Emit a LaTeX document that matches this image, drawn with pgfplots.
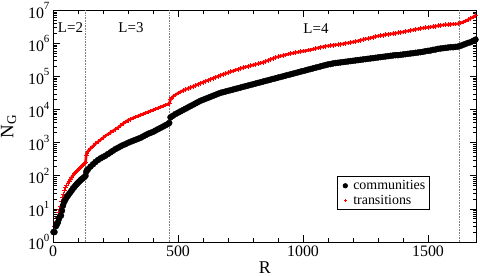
\documentclass[border=0pt]{standalone}
\usepackage{fontspec}
\setmainfont{Liberation Serif}
\usepackage{pgfplots}
\usepackage{pgfplotstable}
\pgfplotsset{compat=1.18}

% log10 of N_G
\pgfplotstableread[row sep=\\]{
R lg\\
2 0.30\\ 6 0.30\\ 12 0.48\\ 16 0.54\\ 20 0.60\\ 24 0.70\\ 28 0.78\\ 32 0.80\\ 36 0.95\\ 40 1.10\\
44 1.20\\ 48 1.26\\ 52 1.32\\ 56 1.37\\ 60 1.41\\ 65 1.46\\ 70 1.51\\ 75 1.56\\ 80 1.62\\ 85 1.66\\
90 1.71\\ 95 1.75\\ 100 1.79\\ 105 1.83\\ 110 1.87\\ 115 1.90\\ 120 1.93\\ 125 1.96\\ 130 2.00\\ 133 2.12\\
136 2.17\\ 140 2.20\\ 150 2.28\\ 160 2.35\\ 170 2.42\\ 180 2.48\\ 190 2.53\\ 200 2.57\\ 210 2.61\\ 220 2.66\\
230 2.71\\ 240 2.76\\ 250 2.81\\ 260 2.85\\ 270 2.89\\ 280 2.93\\ 290 2.96\\ 300 3.00\\ 310 3.03\\ 320 3.06\\
330 3.09\\ 340 3.12\\ 350 3.15\\ 360 3.19\\ 370 3.23\\ 380 3.27\\ 390 3.30\\ 400 3.33\\ 410 3.37\\ 420 3.41\\
430 3.45\\ 440 3.49\\ 450 3.53\\ 460 3.57\\ 465 3.60\\ 470 3.77\\ 480 3.82\\ 490 3.87\\ 500 3.91\\ 510 3.95\\
520 3.99\\ 530 4.03\\ 540 4.07\\ 550 4.11\\ 560 4.15\\ 570 4.19\\ 580 4.23\\ 590 4.27\\ 600 4.30\\ 610 4.33\\
620 4.36\\ 630 4.39\\ 640 4.42\\ 650 4.45\\ 660 4.48\\ 670 4.51\\ 680 4.53\\ 690 4.55\\ 700 4.57\\ 710 4.59\\
720 4.61\\ 730 4.63\\ 740 4.65\\ 750 4.67\\ 760 4.69\\ 770 4.71\\ 780 4.73\\ 790 4.75\\ 800 4.77\\ 810 4.79\\
820 4.81\\ 830 4.83\\ 840 4.85\\ 850 4.87\\ 860 4.89\\ 870 4.91\\ 880 4.93\\ 890 4.95\\ 900 4.97\\ 910 4.99\\
920 5.01\\ 930 5.03\\ 940 5.05\\ 950 5.07\\ 960 5.09\\ 970 5.11\\ 980 5.13\\ 990 5.15\\ 1000 5.17\\ 1010 5.19\\
1020 5.21\\ 1030 5.23\\ 1040 5.25\\ 1050 5.27\\ 1060 5.29\\ 1070 5.31\\ 1080 5.33\\ 1090 5.35\\ 1100 5.37\\ 1110 5.38\\
1120 5.40\\ 1130 5.41\\ 1140 5.42\\ 1150 5.43\\ 1160 5.44\\ 1170 5.45\\ 1180 5.46\\ 1190 5.47\\ 1200 5.48\\ 1210 5.49\\
1220 5.50\\ 1230 5.51\\ 1240 5.52\\ 1250 5.53\\ 1260 5.54\\ 1270 5.55\\ 1280 5.56\\ 1290 5.57\\ 1300 5.58\\ 1310 5.59\\
1320 5.60\\ 1330 5.61\\ 1340 5.62\\ 1350 5.63\\ 1360 5.64\\ 1370 5.65\\ 1380 5.65\\ 1390 5.66\\ 1400 5.67\\ 1410 5.68\\
1420 5.69\\ 1430 5.70\\ 1440 5.71\\ 1450 5.72\\ 1460 5.73\\ 1470 5.74\\ 1480 5.75\\ 1490 5.77\\ 1500 5.78\\ 1510 5.79\\
1520 5.81\\ 1530 5.82\\ 1540 5.84\\ 1550 5.85\\ 1560 5.86\\ 1570 5.87\\ 1580 5.88\\ 1590 5.89\\ 1600 5.89\\ 1610 5.90\\
1620 5.91\\ 1630 5.93\\ 1640 5.96\\ 1650 5.99\\ 1660 6.02\\ 1670 6.04\\ 1680 6.08\\ 1690 6.12\\
}\commtab

\pgfplotstableread[row sep=\\]{
R lg\\
3 0.30\\ 7 0.48\\ 11 0.48\\ 15 0.62\\ 19 0.75\\ 23 0.90\\ 27 1.00\\ 31 1.08\\ 35 1.22\\ 39 1.34\\
43 1.45\\ 47 1.56\\ 51 1.64\\ 55 1.71\\ 60 1.78\\ 65 1.84\\ 70 1.90\\ 75 1.96\\ 80 2.01\\ 85 2.06\\
90 2.10\\ 95 2.14\\ 100 2.18\\ 105 2.22\\ 110 2.26\\ 115 2.30\\ 120 2.34\\ 125 2.37\\ 130 2.40\\ 133 2.62\\
136 2.69\\ 140 2.75\\ 150 2.83\\ 160 2.90\\ 170 2.97\\ 180 3.03\\ 190 3.09\\ 200 3.15\\ 210 3.21\\ 220 3.26\\
230 3.31\\ 240 3.36\\ 250 3.41\\ 260 3.46\\ 270 3.52\\ 280 3.58\\ 290 3.63\\ 300 3.68\\ 310 3.71\\ 320 3.75\\
330 3.78\\ 340 3.81\\ 350 3.84\\ 360 3.87\\ 370 3.90\\ 380 3.93\\ 390 3.96\\ 400 3.99\\ 410 4.02\\ 420 4.05\\
430 4.08\\ 440 4.11\\ 450 4.14\\ 460 4.17\\ 465 4.19\\ 470 4.30\\ 475 4.36\\ 480 4.40\\ 490 4.45\\ 500 4.50\\
510 4.54\\ 520 4.58\\ 530 4.61\\ 540 4.64\\ 550 4.67\\ 560 4.70\\ 570 4.73\\ 580 4.77\\ 590 4.80\\ 600 4.83\\
610 4.86\\ 620 4.89\\ 630 4.92\\ 640 4.95\\ 650 4.98\\ 660 5.01\\ 670 5.04\\ 680 5.07\\ 690 5.09\\ 700 5.12\\
710 5.15\\ 720 5.17\\ 730 5.20\\ 740 5.22\\ 750 5.25\\ 760 5.27\\ 770 5.29\\ 780 5.31\\ 790 5.33\\ 800 5.35\\
810 5.37\\ 820 5.39\\ 830 5.41\\ 840 5.43\\ 850 5.46\\ 860 5.49\\ 870 5.52\\ 880 5.55\\ 890 5.58\\ 900 5.60\\
910 5.62\\ 920 5.64\\ 930 5.66\\ 940 5.68\\ 950 5.70\\ 960 5.71\\ 970 5.73\\ 980 5.74\\ 990 5.76\\ 1000 5.77\\
1010 5.78\\ 1020 5.80\\ 1030 5.81\\ 1040 5.83\\ 1050 5.85\\ 1060 5.87\\ 1070 5.89\\ 1080 5.90\\ 1090 5.92\\ 1100 5.93\\
1110 5.94\\ 1120 5.95\\ 1130 5.96\\ 1140 5.97\\ 1150 5.98\\ 1160 5.99\\ 1170 6.01\\ 1180 6.02\\ 1190 6.03\\ 1200 6.05\\
1210 6.06\\ 1220 6.08\\ 1230 6.10\\ 1240 6.12\\ 1250 6.14\\ 1260 6.15\\ 1270 6.17\\ 1280 6.19\\ 1290 6.21\\ 1300 6.23\\
1310 6.24\\ 1320 6.25\\ 1330 6.27\\ 1340 6.28\\ 1350 6.29\\ 1360 6.30\\ 1370 6.31\\ 1380 6.33\\ 1390 6.34\\ 1400 6.35\\
1410 6.37\\ 1420 6.38\\ 1430 6.40\\ 1440 6.41\\ 1450 6.43\\ 1460 6.44\\ 1470 6.46\\ 1480 6.47\\ 1490 6.48\\ 1500 6.49\\
1510 6.50\\ 1520 6.51\\ 1530 6.52\\ 1540 6.54\\ 1550 6.55\\ 1560 6.56\\ 1570 6.57\\ 1580 6.57\\ 1590 6.58\\ 1600 6.59\\
1610 6.59\\ 1620 6.60\\ 1630 6.62\\ 1640 6.65\\ 1650 6.68\\ 1660 6.72\\ 1670 6.76\\ 1680 6.80\\ 1690 6.85\\
}\transtab

\newcommand{\yl}[1]{10\raisebox{8.5pt}{\fontsize{11}{11}\selectfont #1}}
\pgfplotsset{markimg/.style={legend image code/.code={%
  \path[draw=none, fill=none] (0bp,0bp) (12bp,0bp);
  \draw[##1] plot coordinates {(6bp,0bp)};}}}

\begin{document}
\begin{tikzpicture}
\begin{axis}[
  scale only axis, width=423.75bp, height=231.5bp,
  at={(0,0)}, anchor=south west,
  xmin=0, xmax=1695, ymin=1, ymax=1e7, ymode=log,
  xtick={0,500,1000,1500}, xticklabels={0,500,1000,1500},
  minor x tick num=4,
  ytick={1,10,100,1000,10000,100000,1000000,10000000},
  yticklabels={\yl{0},\yl{1},\yl{2},\yl{3},\yl{4},\yl{5},\yl{6},\yl{7}},
  minor ytick={2,3,4,5,6,7,8,9,20,30,40,50,60,70,80,90,200,300,400,500,600,700,800,900,
    2000,3000,4000,5000,6000,7000,8000,9000,20000,30000,40000,50000,60000,70000,80000,90000,
    200000,300000,400000,500000,600000,700000,800000,900000,
    2000000,3000000,4000000,5000000,6000000,7000000,8000000,9000000},
  tick align=inside, major tick length=7bp, minor tick length=4bp,
  every tick/.style={black, line width=0.8pt},
  axis line style={line width=1pt},
  ticklabel style={font=\fontsize{16}{16}\selectfont},
  xlabel={R}, ylabel={N\textsubscript{G}},
  xlabel style={at={(axis description cs:0.5,-0.136)}, anchor=base, font=\fontsize{18}{18}\selectfont},
  ylabel style={at={(axis description cs:-0.0937,0.5)}, anchor=base, font=\fontsize{19}{19}\selectfont},
  legend style={at={(rel axis cs:0.67,0.285)}, anchor=north west, draw=black, line width=0.8pt,
    font=\fontsize{14}{14}\selectfont, inner xsep=2pt, inner ysep=2pt, row sep=0pt,
    cells={anchor=west}},
]
\addlegendimage{only marks, mark=*, black, mark size=2.2bp, markimg}
\addlegendentry{communities}
\addlegendimage{only marks, mark=+, red, mark size=1.8bp, line width=0.6pt, markimg}
\addlegendentry{transitions}

\addplot[forget plot, densely dotted, gray, line width=0.6pt] coordinates {(131,1) (131,1e7)};
\addplot[forget plot, densely dotted, gray, line width=0.6pt] coordinates {(465,1) (465,1e7)};
\addplot[forget plot, densely dotted, gray, line width=0.6pt] coordinates {(1624,1) (1624,1e7)};

\addplot[forget plot, red, line width=2.6bp, restrict x to domain=58:1700]
  table[x=R, y expr={10^\thisrow{lg}}] {\transtab};
\addplot[forget plot, only marks, mark=+, red, mark size=2.3bp, line width=0.8pt]
  table[x=R, y expr={10^\thisrow{lg}}] {\transtab};
\addplot[forget plot, only marks, mark=*, black, mark size=3bp]
  table[x=R, y expr={10^\thisrow{lg}}] {\commtab};

\node[font=\fontsize{15}{15}\selectfont] at (axis cs:70,2.95e6) {L=2};
\node[font=\fontsize{15}{15}\selectfont] at (axis cs:312,2.95e6) {L=3};
\node[font=\fontsize{15}{15}\selectfont] at (axis cs:1052,2.8e6) {L=4};
\end{axis}
\pgfresetboundingbox
\useasboundingbox (-53bp,-34bp) rectangle (427bp,242bp);
\end{tikzpicture}
\end{document}
